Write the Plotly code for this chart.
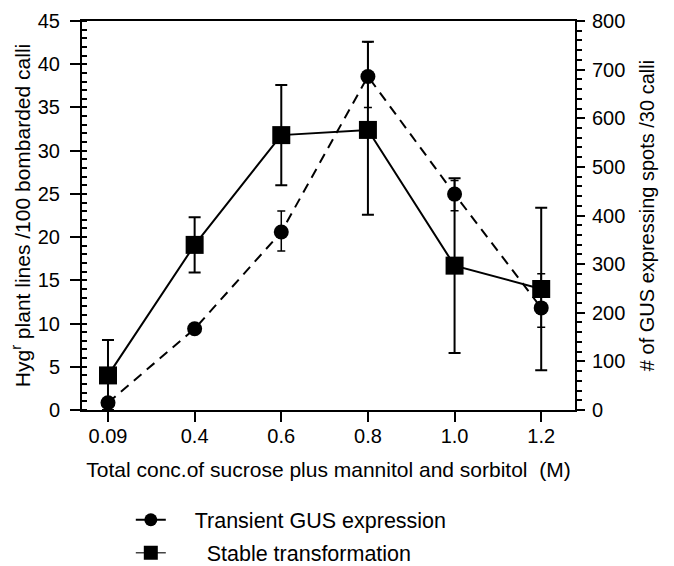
import plotly.graph_objects as go

conc = ["0.09", "0.4", "0.6", "0.8", "1.0", "1.2"]
stable = [4.0, 19.1, 31.8, 32.4, 16.7, 14.0]
stable_err_up = [4.1, 3.2, 5.8, 10.2, 10.1, 9.4]
stable_err_down = [4.0, 3.2, 5.8, 9.8, 10.1, 9.4]
transient = [15, 167, 366, 686, 444, 210]
transient_err_up = [0, 0, 43, 71, 28, 70]
transient_err_down = [0, 0, 39, 64, 34, 40]

FONT = "Liberation Sans, Arial, Helvetica, sans-serif"
NB = "\u00a0"

fig = go.Figure()
fig.add_trace(go.Scatter(
    x=conc, y=transient, yaxis="y2", mode="lines+markers",
    line=dict(color="black", width=2, dash="10px,7px"),
    marker=dict(symbol="circle", size=15, color="black"),
    error_y=dict(type="data", array=transient_err_up, arrayminus=transient_err_down,
                 color="black", thickness=1.5, width=4),
    showlegend=False))
fig.add_trace(go.Scatter(
    x=conc, y=stable, mode="lines+markers",
    line=dict(color="black", width=2),
    marker=dict(symbol="square", size=18, color="black"),
    error_y=dict(type="data", array=stable_err_up, arrayminus=stable_err_down,
                 color="black", thickness=2, width=6),
    showlegend=False))
# legend entries
fig.add_trace(go.Scatter(
    x=[None], y=[None], mode="lines+markers", name=NB * 4 + "Transient GUS expression",
    line=dict(color="black", width=2), marker=dict(symbol="circle", size=13, color="black"),
    legendgroup="a"))
fig.add_trace(go.Scatter(
    x=[None], y=[None], mode="lines+markers", name=NB * 6 + "Stable transformation",
    line=dict(color="#444", width=1.5), marker=dict(symbol="square", size=14, color="black"),
    legendgroup="b"))

fig.update_layout(
    width=674, height=566,
    margin=dict(l=74, r=107, t=13, b=163.5, autoexpand=False),
    paper_bgcolor="white", plot_bgcolor="white",
    font=dict(family=FONT, size=20, color="black"),
    xaxis=dict(
        type="category", range=[-0.30, 5.39], automargin=False,
        showline=True, linecolor="black", linewidth=2, mirror=True,
        ticks="outside", ticklen=10, tickwidth=2, tickcolor="black",
        ticklabelstandoff=-3,
        showgrid=False, zeroline=False,
        tickfont=dict(size=20),
        title=dict(text="Total conc.of sucrose plus mannitol and sorbitol  (M)",
                   font=dict(size=21), standoff=16),
    ),
    yaxis=dict(
        range=[0, 45], dtick=5, automargin=False,
        showline=True, linecolor="black", linewidth=2,
        ticks="outside", ticklen=10, tickwidth=2, tickcolor="black",
        ticklabelstandoff=6,
        minor=dict(dtick=1, ticks="inside", ticklen=5, tickwidth=1.5, tickcolor="black"),
        showgrid=False, zeroline=False,
        tickfont=dict(size=20),
        title=dict(text="Hyg<sup>r</sup> plant lines /100 bombarded calli",
                   font=dict(size=21), standoff=13),
    ),
    yaxis2=dict(
        range=[0, 800], dtick=100, overlaying="y", side="right", automargin=False,
        showline=True, linecolor="black", linewidth=2,
        ticks="outside", ticklen=8, tickwidth=2, tickcolor="black",
        ticklabelstandoff=3,
        minor=dict(dtick=20, ticks="outside", ticklen=5, tickwidth=1.5, tickcolor="black"),
        showgrid=False, zeroline=False,
        tickfont=dict(size=20),
        title=dict(text="# of GUS expressing spots /30 calli",
                   font=dict(size=20), standoff=16),
    ),
    legend=dict(x=0.099, y=-0.2295, xanchor="left", yanchor="top",
                font=dict(size=21.5), traceorder="grouped", tracegroupgap=2,
                bgcolor="rgba(0,0,0,0)", itemwidth=30),
)

fig.write_html("out.html")
